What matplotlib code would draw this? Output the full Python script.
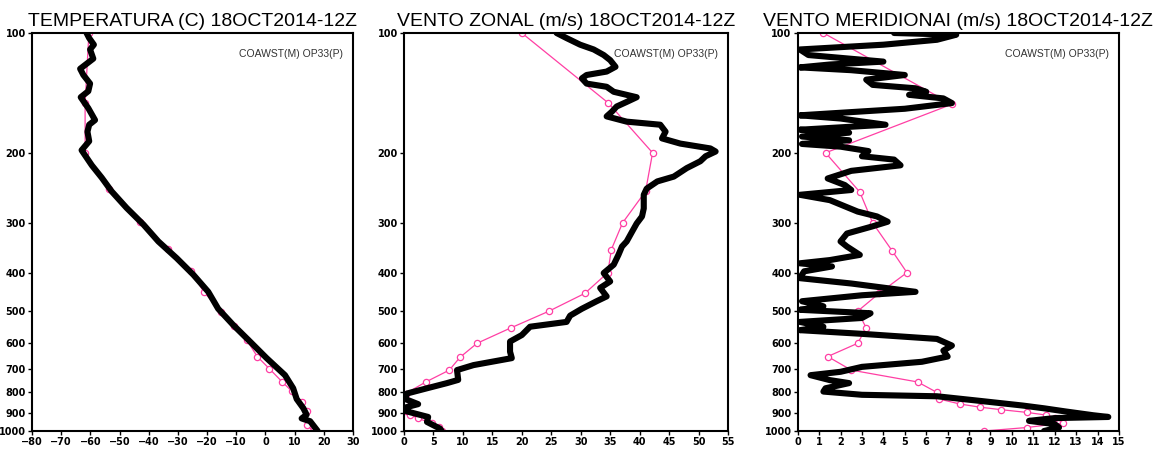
"""Sounding comparison: COAWST model (M) vs OP33 radiosonde (P), 18OCT2014-12Z."""

import matplotlib

matplotlib.use("Agg")
import matplotlib.pyplot as plt
from matplotlib.ticker import FixedLocator, NullLocator

# ---- temperature (C) ----
temp_model_p = [100, 103, 107, 110, 116, 123, 127.5, 134, 140, 145, 154.5, 165.5, 170, 177,
                187, 197, 200, 215, 231, 250, 275, 303, 334, 368, 405, 447, 493, 542,
                596, 656, 724, 781, 831, 877, 910, 930, 945, 1000]
temp_model = [-61.3, -60.4, -58.8, -60.1, -59.0, -63.5, -62.4, -60.1, -60.7, -63.3, -60.7, -58.4,
              -60.4, -61.0, -60.4, -63.0, -62.4, -59.5, -56.1, -52.7, -47.6, -41.8, -36.7,
              -30.4, -24.7, -19.6, -16.2, -11.0, -5.3, 0.4, 6.7, 9.5, 10.7, 13.0, 14.1, 12.4,
              15.3, 17.9]
temp_obs_p = [100, 150, 200, 246, 298, 348, 397, 447, 501, 546, 591, 650, 697, 752, 794,
              846, 893, 965, 1000]
temp_obs = [-60.5, -61.8, -61.8, -53.5, -43.0, -33.3, -25.6, -21.1, -15.3, -10.8, -6.4, -2.8,
            1.3, 5.7, 9.0, 12.4, 14.3, 14.1, 16.4]

# ---- zonal wind (m/s) ----
u_model_p = [100, 103, 107, 110, 113.6, 117, 121.6, 125, 127.5, 130, 134, 136.5, 140.5, 145,
             149, 153, 157.6, 162, 167, 170, 177, 184, 189.6, 195, 198.5, 204, 210, 218.5,
             229.5, 236, 246, 255, 276, 289, 301, 316, 334, 344, 361, 382, 401, 421, 437,
             459, 472, 493, 513, 532, 547, 574, 596, 632, 656, 683, 703, 744, 758, 781, 805,
             831, 856, 873, 893, 922, 949, 986, 1000]
u_model = [25.9, 27.6, 29.9, 32.2, 33.9, 35.0, 35.9, 34.4, 31.0, 30.2, 31.0, 34.4, 35.6, 39.5,
           37.8, 36.1, 35.3, 34.4, 37.8, 43.5, 44.4, 43.8, 46.9, 52.0, 52.9, 51.2, 50.3, 48.0,
           45.8, 43.0, 41.2, 40.7, 40.7, 40.4, 39.5, 38.7, 37.8, 37.0, 36.4, 35.6, 33.9, 35.0,
           33.3, 34.4, 32.7, 30.2, 28.2, 27.6, 21.4, 20.0, 18.0, 18.0, 18.3, 11.8, 9.0, 9.2,
           7.3, 3.9, 0.5, 0.2, 2.4, 0.2, 0.5, 4.1, 3.9, 6.1, 6.4]
u_obs_p = [100, 150, 200, 250, 300, 350, 400, 451, 500, 551, 602, 653, 703, 753, 805, 856,
           893, 910, 930, 955, 975, 1000]
u_obs = [20.0, 34.7, 42.2, 41.0, 37.1, 35.2, 34.6, 30.7, 24.6, 18.1, 12.4, 9.5, 7.7, 3.7,
         0.3, 0.2, 0.3, 1.1, 2.4, 4.7, 6.0, 6.4]

# ---- meridional wind (m/s) ----
v_model_p = [100, 101, 104, 107, 110, 113.6, 118, 120, 122, 124, 127.5, 131, 135, 137.7,
             140.5, 143, 146, 150, 155, 161, 164, 170, 175, 178, 182, 186, 190, 193, 198,
             204, 208, 215, 222, 232, 241, 248, 255, 263, 281, 289, 298, 306, 319, 334, 344,
             361, 372, 379, 386, 397, 413, 426, 447, 456, 472, 486, 496, 506, 520, 532, 547,
             558, 570, 587, 610, 628, 650, 670, 690, 710, 724, 745, 758, 781, 796, 811, 818,
             840, 863, 877, 893, 913, 922, 928, 943, 961, 980, 1000]
v_model = [4.5, 7.4, 6.5, 4.0, 0.1, 0.5, 4.0, 1.5, 0.1, 2.5, 5.0, 3.2, 3.5, 5.5, 6.0, 5.2,
           6.8, 7.2, 5.0, 0.1, 2.0, 4.1, 0.1, 2.4, 0.2, 2.4, 0.2, 2.0, 3.3, 3.0, 4.5, 4.8,
           2.5, 1.4, 2.2, 2.5, 0.1, 1.5, 2.8, 3.7, 4.2, 3.5, 2.3, 2.0, 2.3, 2.9, 1.5, 0.1,
           1.6, 0.3, 0.1, 2.5, 5.5, 3.0, 0.2, 1.2, 0.1, 3.4, 3.0, 0.1, 1.2, 0.1, 3.0, 6.5,
           7.2, 6.8, 7.0, 5.8, 3.0, 2.0, 0.6, 1.5, 2.4, 1.3, 1.2, 3.0, 6.5, 8.5, 10.5, 11.5,
           12.5, 13.8, 14.5, 12.0, 10.8, 12.0, 12.2, 11.5]
v_obs_p = [100, 151, 200, 251, 300, 352, 400, 451, 500, 551, 602, 650, 703, 753, 800, 831,
           856, 871, 884, 898, 912, 925, 955, 980, 1000]
v_obs = [1.2, 7.2, 1.3, 2.9, 3.5, 4.4, 5.1, 3.8, 2.8, 3.2, 2.8, 1.4, 2.5, 5.6, 6.5, 6.6,
         7.6, 8.5, 9.5, 10.7, 11.6, 12.0, 12.4, 10.7, 8.7]

titles = ["TEMPERATURA (C) 18OCT2014-12Z", "VENTO ZONAL (m/s) 18OCT2014-12Z",
          "VENTO MERIDIONAI (m/s) 18OCT2014-12Z"]
xlims = [(-80, 30), (0, 55), (0, 15)]
xticks = [list(range(-80, 31, 10)), list(range(0, 56, 5)), list(range(0, 16))]
p_ticks = [100, 200, 300, 400, 500, 600, 700, 800, 900, 1000]

TXT_FONT = ["Liberation Sans", "DejaVu Sans"]
PINK = "#ff3fa4"

fig = plt.figure(figsize=(11.64, 4.5), dpi=100)
lefts = [32 / 1164, 404 / 1164, 797.7 / 1164]
widths = [321 / 1164, 324 / 1164, 321.3 / 1164]

panels = [(temp_model_p, temp_model, temp_obs_p, temp_obs),
          (u_model_p, u_model, u_obs_p, u_obs),
          (v_model_p, v_model, v_obs_p, v_obs)]

for i, (mp, mv, op, ov) in enumerate(panels):
    ax = fig.add_axes([lefts[i], 1 - 431 / 450, widths[i], 398 / 450])
    ax.plot(ov, op, color=PINK, lw=0.9, marker="o", ms=4.5, mfc="white", mec=PINK,
            mew=0.9, zorder=2)
    ax.plot(mv, mp, color="black", lw=4.4, solid_joinstyle="round", solid_capstyle="round",
            zorder=3)
    ax.set_yscale("log")
    ax.set_ylim(1000, 100)
    ax.set_xlim(*xlims[i])
    ax.yaxis.set_major_locator(FixedLocator(p_ticks))
    ax.yaxis.set_minor_locator(NullLocator())
    ax.set_yticklabels([str(p) for p in p_ticks])
    ax.set_xticks(xticks[i])
    ax.set_xticklabels([str(t).replace("-", "\u2212") for t in xticks[i]])
    ax.tick_params(direction="out", length=3, width=1, labelsize=7, pad=1.5)
    for lab in ax.get_xticklabels() + ax.get_yticklabels():
        lab.set_fontweight("bold")
    for s in ax.spines.values():
        s.set_linewidth(1.5)
    ax.set_title(titles[i], family=TXT_FONT, fontsize=14, pad=5)
    ax.text(0.97, 0.947, "COAWST(M) OP33(P)", transform=ax.transAxes, ha="right",
            va="center", family=TXT_FONT, fontsize=7.5, color="#333333")

fig.savefig("out.png", dpi=100)
